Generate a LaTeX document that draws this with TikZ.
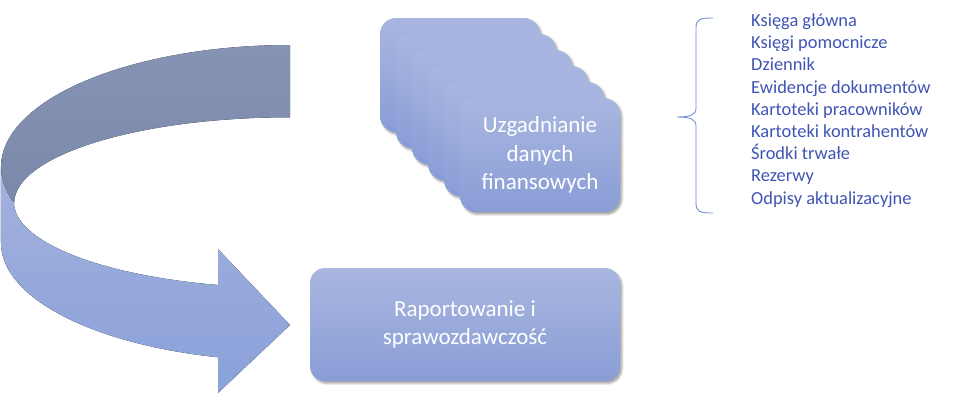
\documentclass[tikz,border=0pt]{standalone}
\usepackage{fontspec}
\setmainfont{Carlito}
\usetikzlibrary{positioning,shadows.blur}
\definecolor{cardtop}{HTML}{A9B6E0}
\definecolor{cardbot}{HTML}{899DD6}
\definecolor{ribbondark}{HTML}{8693B4}
\definecolor{ribbondarkbot}{HTML}{7A88AA}
\definecolor{ribbonlight}{HTML}{A3B1DD}
\definecolor{ribbonlightbot}{HTML}{8AA1DA}
\definecolor{itemblue}{HTML}{3F54B4}
\definecolor{bracecol}{HTML}{7591D2}

\begin{document}
\begin{tikzpicture}[x=1pt,y=-1pt,on grid,node distance=16pt and 16pt,
  card/.style={rounded corners=16pt, top color=cardtop, bottom color=cardbot,
    text=white, align=center, font=\fontsize{23}{28.5}\selectfont,
    minimum width=160pt, minimum height=114pt,
    blur shadow={shadow xshift=2pt, shadow yshift=-2.5pt, shadow opacity=35}},
  item/.style={anchor=base west, inner sep=0pt, text=itemblue,
    font=\fontsize{18.4}{22}\selectfont}]
   \useasboundingbox (0,0) rectangle (978,405);
   % curved arrow: top face, then front face with head
   \fill[top color=ribbondark, bottom color=ribbondarkbot]
     (290,45) arc[start angle=270, end angle=162.7, x radius=289, y radius=122]
     arc[start angle=180, end angle=270, x radius=276, y radius=86] -- cycle;
   \fill[top color=ribbonlight, bottom color=ribbonlightbot]
     (14,203) arc[start angle=162.7, end angle=180, x radius=289, y radius=122]
     -- (1,243) arc[start angle=180, end angle=104.4, x radius=289, y radius=118]
     -- (218,393) -- (290,325) -- (218,249) -- (218,285)
     arc[start angle=105.1, end angle=180, x radius=276, y radius=86] -- cycle;
   % stack of cards
   \node[card] (u0) at (460,75) {};
   \node[card] (u1) [below right=of u0] {};
   \node[card] (u2) [below right=of u1] {};
   \node[card] (u3) [below right=of u2] {};
   \node[card] (u4) [below right=of u3] {};
   \node[card] (u5) [below right=of u4] {Uzgadnianie\\danych\\finansowych};
   \node[card, rounded corners=15pt, minimum width=310pt, minimum height=113pt]
     (report) at (465,324.5) {Raportowanie i\\sprawozdawczość};
   % list with brace
   \foreach \t [count=\i] in {Księga główna, Księgi pomocnicze, Dziennik,
       Ewidencje dokumentów, Kartoteki pracowników, Kartoteki kontrahentów,
       Środki trwałe, Rezerwy, Odpisy aktualizacyjne}
     \node[item] (item\i) at (751,{26.5+22.2*(\i-1)}) {\t};
   \coordinate (btop) at (713,18);
   \coordinate (bmid) at (677,117);
   \coordinate (bbot) at (713,213);
   \draw[bracecol, line width=0.9pt]
     (btop) .. controls (700,18) and (696,19) .. (696,28) -- (696,108)
     .. controls (696,115) and (690,117) .. (bmid)
     .. controls (690,117) and (696,119) .. (696,126) -- (696,203)
     .. controls (696,212) and (700,213) .. (bbot);
\end{tikzpicture}
\end{document}
